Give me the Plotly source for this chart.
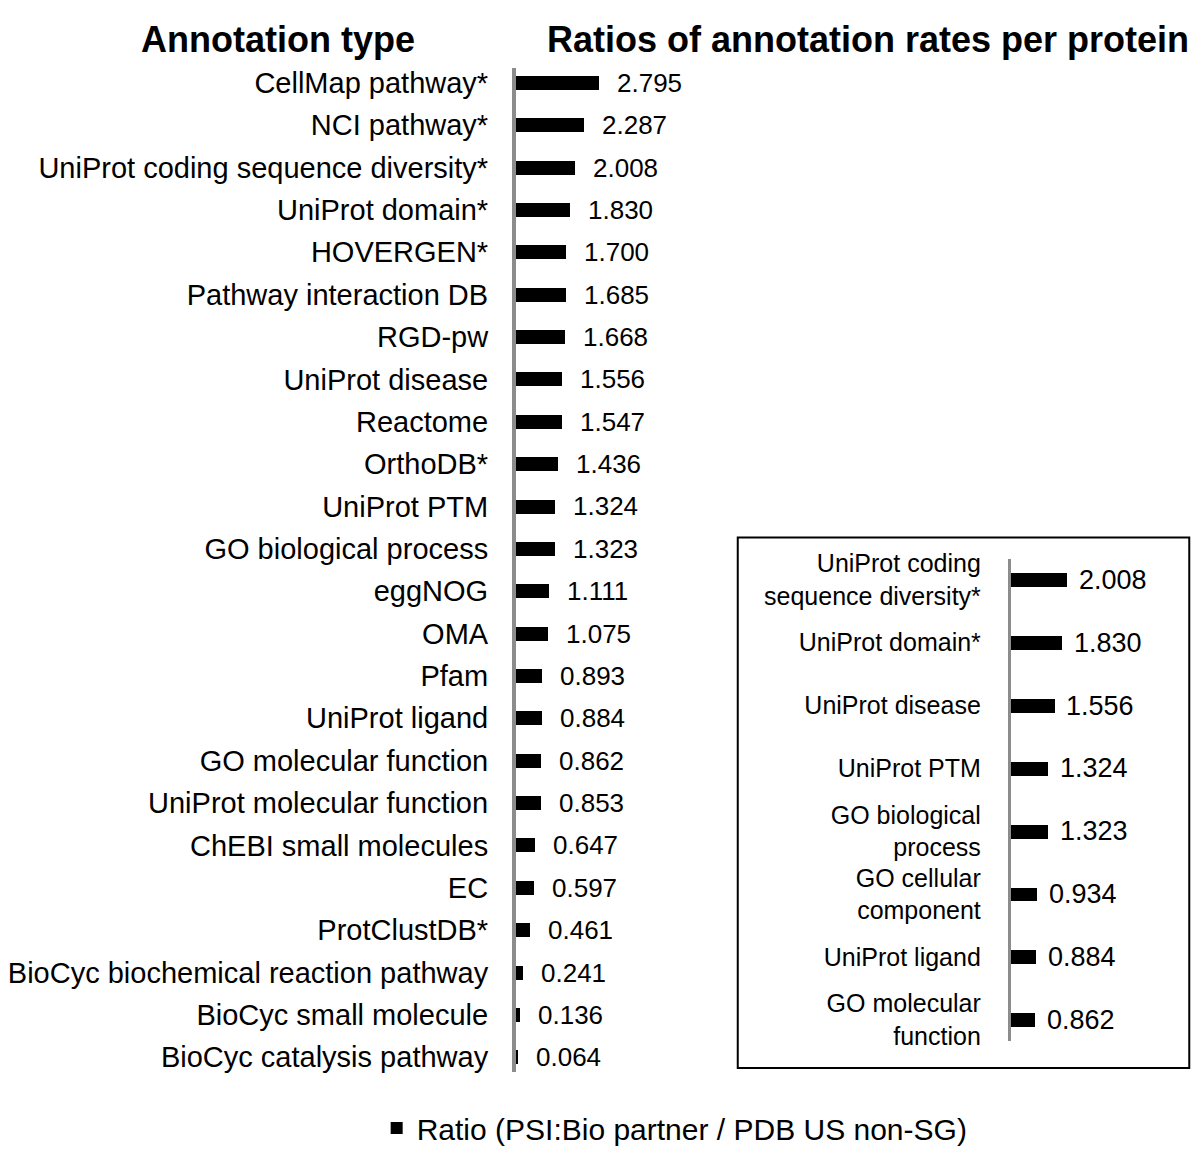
import plotly.graph_objects as go

# ---- data ----
main_categories = [
    "CellMap pathway*", "NCI pathway*", "UniProt coding sequence diversity*",
    "UniProt domain*", "HOVERGEN*", "Pathway interaction DB", "RGD-pw",
    "UniProt disease", "Reactome", "OrthoDB*", "UniProt PTM",
    "GO biological process", "eggNOG", "OMA", "Pfam", "UniProt ligand",
    "GO molecular function", "UniProt molecular function",
    "ChEBI small molecules", "EC", "ProtClustDB*",
    "BioCyc biochemical reaction pathway", "BioCyc small molecule",
    "BioCyc catalysis pathway",
]
main_values = [2.795, 2.287, 2.008, 1.830, 1.700, 1.685, 1.668, 1.556, 1.547,
               1.436, 1.324, 1.323, 1.111, 1.075, 0.893, 0.884, 0.862, 0.853,
               0.647, 0.597, 0.461, 0.241, 0.136, 0.064]

inset_categories = [
    "UniProt coding<br>sequence diversity*", "UniProt domain*",
    "UniProt disease", "UniProt PTM", "GO biological<br>process",
    "GO cellular<br>component", "UniProt ligand", "GO molecular<br>function",
]
inset_values = [2.008, 1.830, 1.556, 1.324, 1.323, 0.934, 0.884, 0.862]

legend_name = "Ratio (PSI:Bio partner / PDB US non-SG)"
title_left = "Annotation type"
title_right = "Ratios of annotation rates per protein"

# ---- layout helpers ----
W, H = 1200, 1172
FONT = "Liberation Sans, Arial, Helvetica, sans-serif"
# page offset compensation (body margin etc.)
OX, OY, HV = 8, 16, 1156


def px_x(p):
    return (p - OX) / W


def px_y(p):
    return 1 - (p - OY) / HV


fig = go.Figure()

fig.add_trace(go.Bar(
    x=main_values, y=main_categories, orientation="h",
    marker=dict(color="black", line=dict(width=0)),
    width=0.33, name=legend_name, showlegend=True,
    xaxis="x", yaxis="y", hoverinfo="x+y",
))

fig.add_trace(go.Bar(
    x=inset_values, y=inset_categories, orientation="h",
    marker=dict(color="black", line=dict(width=0)),
    width=0.22, name=legend_name, showlegend=False,
    xaxis="x2", yaxis="y2", hoverinfo="x",
))

annotations = []
for c, v in zip(main_categories, main_values):
    annotations.append(dict(
        x=v, y=c, xref="x", yref="y", text=f"{v:.3f}", showarrow=False,
        xanchor="left", yanchor="middle", xshift=16,
        font=dict(size=26, color="black", family=FONT),
    ))
for c, v in zip(inset_categories, inset_values):
    annotations.append(dict(
        x=v, y=c, xref="x2", yref="y2", text=f"{v:.3f}", showarrow=False,
        xanchor="left", yanchor="middle", xshift=10,
        font=dict(size=27, color="black", family=FONT),
    ))
annotations.append(dict(
    x=px_x(265), y=px_y(39), xref="paper", yref="paper",
    text=f"<b>{title_left}</b>", showarrow=False,
    xanchor="center", yanchor="middle",
    font=dict(size=36, color="black", family=FONT),
))
annotations.append(dict(
    x=px_x(863), y=px_y(39), xref="paper", yref="paper",
    text=f"<b>{title_right}</b>", showarrow=False,
    xanchor="center", yanchor="middle",
    font=dict(size=36, color="black", family=FONT),
))

main_x0, main_x1 = 506, 760
inset_x0, inset_x1 = 1008, 1183

fig.update_layout(
    width=W, height=H,
    margin=dict(l=0, r=0, t=0, b=0),
    paper_bgcolor="white", plot_bgcolor="white",
    font=dict(family=FONT, color="black"),
    bargap=0,
    xaxis=dict(
        domain=[px_x(main_x0), px_x(main_x1)],
        range=[0, (main_x1 - main_x0) / 30.0],
        visible=False, fixedrange=True,
    ),
    yaxis=dict(
        domain=[px_y(1072), px_y(67)],
        range=[23.35, -0.35], type="category",
        showline=True, linecolor="#8c8c8c", linewidth=4,
        showgrid=False, zeroline=False, ticks="",
        ticklabelstandoff=18,
        tickfont=dict(size=29, color="black", family=FONT),
        anchor="x", fixedrange=True,
    ),
    xaxis2=dict(
        domain=[px_x(inset_x0), px_x(inset_x1)],
        range=[0, (inset_x1 - inset_x0) / 28.4],
        visible=False, fixedrange=True, anchor="y2",
    ),
    yaxis2=dict(
        domain=[px_y(1041), px_y(558)],
        range=[7.34, -0.34], type="category",
        showline=True, linecolor="#8c8c8c", linewidth=3,
        showgrid=False, zeroline=False, ticks="",
        ticklabelstandoff=22,
        tickfont=dict(size=25, color="black", family=FONT),
        anchor="x2", fixedrange=True,
    ),
    shapes=[dict(
        type="rect", xref="paper", yref="paper",
        x0=px_x(731), x1=px_x(1189), y0=px_y(1068), y1=px_y(537),
        line=dict(color="black", width=2), fillcolor="rgba(0,0,0,0)",
    )],
    annotations=annotations,
    legend=dict(
        orientation="h", x=px_x(667), xanchor="center", y=px_y(1128), yanchor="middle",
        font=dict(size=30, color="black", family=FONT),
        bgcolor="rgba(0,0,0,0)", itemwidth=30,
    ),
    showlegend=True,
)

fig.write_html("out.html")
